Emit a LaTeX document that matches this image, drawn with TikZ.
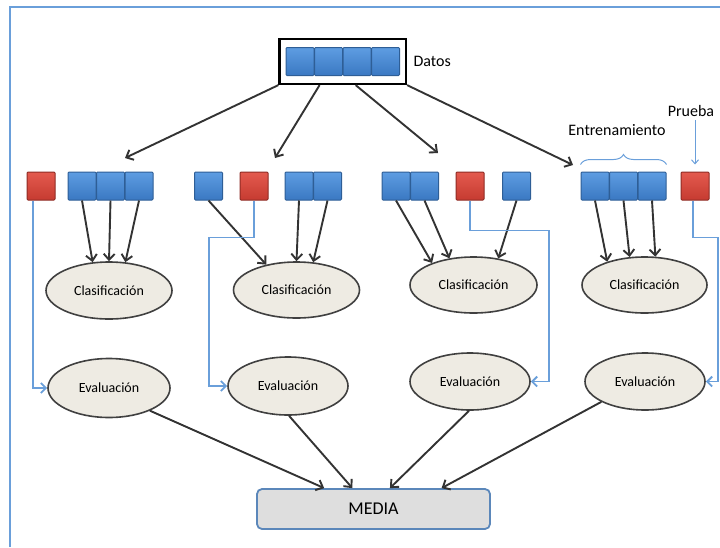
\documentclass[tikz,border=0pt]{standalone}
\usepackage{fontspec}
\setmainfont{Carlito}
\usepackage{xcolor}
\usepackage{tikz}
\usetikzlibrary{shapes.geometric, arrows.meta, positioning, fit, calc, decorations.pathreplacing}

\definecolor{bluetop}{HTML}{5E9DE2}
\definecolor{bluebot}{HTML}{3A78C2}
\definecolor{blueedge}{HTML}{2E5E96}
\definecolor{redtop}{HTML}{E35A4E}
\definecolor{redbot}{HTML}{C63B31}
\definecolor{rededge}{HTML}{8F2B24}
\definecolor{ovalfill}{HTML}{EEEBE3}
\definecolor{linkblue}{HTML}{6A9FDA}
\definecolor{mediafill}{HTML}{DEDEDE}
\definecolor{mediaedge}{HTML}{5B87BA}

\begin{document}
\begin{tikzpicture}[x=1pt, y=-1pt,
    bluebox/.style={draw=blueedge, line width=1pt, top color=bluetop, bottom color=bluebot, rounded corners=1pt, minimum width=28pt, minimum height=28pt, inner sep=0pt},
    redbox/.style={draw=rededge, line width=1pt, top color=redtop, bottom color=redbot, rounded corners=1pt, minimum width=28pt, minimum height=28pt, inner sep=0pt},
    oval/.style={ellipse, draw=black!75, line width=1.6pt, fill=ovalfill, inner sep=0pt, font=\fontsize{14}{16}\selectfont},
    link/.style={draw=black!80, line width=1.9pt, -{Straight Barb[length=6pt, width=11pt]}},
    testlink/.style={draw=linkblue, line width=1.9pt, -{Straight Barb[length=5pt, width=10pt]}},
    lbl/.style={font=\fontsize{16}{18}\selectfont}]
    \useasboundingbox (0,0) rectangle (720,547);

    % Frame
    \draw [linkblue, line width=1.6pt] (10,547) -- (10,7) -- (720,7);

    % Data set
    \foreach \i/\x in {1/300, 2/328.5, 3/357, 4/385.5}
        \node [bluebox] (d\i) at (\x,61.5) {};
    \node [draw, line width=2.2pt, fit=(d1)(d4), inner xsep=6pt, inner ysep=8pt] (datos) {};
    \node [lbl, right=3pt of datos] (datoslbl) {Datos};

    % Folds
    \node [redbox] (g1r) at (41,186) {};
    \foreach \i/\x in {1/82, 2/110.5, 3/139}
        \node [bluebox] (g1b\i) at (\x,186) {};

    \node [bluebox] (g2s) at (208.5,186) {};
    \node [redbox] (g2r) at (254,186) {};
    \foreach \i/\x in {1/299, 2/327.5}
        \node [bluebox] (g2b\i) at (\x,186) {};

    \foreach \i/\x in {1/396, 2/424.5}
        \node [bluebox] (g3b\i) at (\x,186) {};
    \node [redbox] (g3r) at (470,186) {};
    \node [bluebox] (g3s) at (516.5,186) {};

    \foreach \i/\x in {1/595, 2/623.5, 3/652}
        \node [bluebox] (g4b\i) at (\x,186) {};
    \node [redbox] (g4r) at (695,186) {};

    % Classifiers
    \node [oval, minimum width=126pt, minimum height=57pt] (cl1) at (109,290.5) {Clasificación};
    \node [oval, minimum width=126pt, minimum height=56pt] (cl2) at (296.5,290) {Clasificación};
    \node [oval, minimum width=127pt, minimum height=56pt] (cl3) at (473.5,285) {Clasificación};
    \node [oval, minimum width=125pt, minimum height=56pt] (cl4) at (644.5,285) {Clasificación};

    % Evaluations
    \node [oval, minimum width=122pt, minimum height=59pt] (ev1) at (109,388) {Evaluación};
    \node [oval, minimum width=120pt, minimum height=58pt] (ev2) at (288,386) {Evaluación};
    \node [oval, minimum width=120pt, minimum height=57pt] (ev3) at (470,381.5) {Evaluación};
    \node [oval, minimum width=120pt, minimum height=57pt] (ev4) at (645,381.5) {Evaluación};

    % Mean
    \node [draw=mediaedge, line width=1.8pt, fill=mediafill, rounded corners=5pt, minimum width=233pt, minimum height=40pt, font=\fontsize{18}{20}\selectfont] (media) at (373.5,509) {MEDIA};

    % Split
    \coordinate (p1) at (125,158);
    \coordinate (p2) at (275,158);
    \coordinate (p3) at (438,153);
    \coordinate (p4) at (573,165);
    \draw [link] (datos.south west) -- (p1);
    \draw [link] ($(datos.south west)!0.32!(datos.south east)$) -- (p2);
    \draw [link] ($(datos.south west)!0.6!(datos.south east)$) -- (p3);
    \draw [link] (datos.south east) -- (p4);

    % Training
    \draw [link] (g1b1.south) -- (cl1.120);
    \draw [link] (g1b2.south) -- (cl1.90);
    \draw [link] (g1b3.south) -- (cl1.60);
    \draw [link] (g2s.south) -- (cl2.140);
    \draw [link] (g2b1.south) -- (cl2.90);
    \draw [link] (g2b2.south) -- (cl2.59);
    \draw [link] (g3b1.south) -- (cl3.152);
    \draw [link] (g3b2.south) -- (cl3.132);
    \draw [link] (g3s.south) -- (cl3.47);
    \draw [link] (g4b1.south) -- (cl4.148);
    \draw [link] (g4b2.south) -- (cl4.118);
    \draw [link] (g4b3.south) -- (cl4.69);

    % Test
    \draw [testlink] ([xshift=-8pt]g1r.south) |- (ev1.west);
    \draw [testlink] (g2r.south) -- ++(0,37) -| ([xshift=-18pt]ev2.west) -- (ev2.west);
    \draw [testlink] (g3r.south) -- ++(0,30) -| ([xshift=18pt]ev3.east) -- (ev3.east);
    \draw [testlink] ([xshift=-2pt]g4r.south) -- ++(0,37) -| ([xshift=12pt]ev4.east) -- (ev4.east);

    % Labels
    \draw [linkblue, line width=1pt, decorate, decoration={brace, amplitude=10pt}]
        ([yshift=7pt]g4b1.north west) -- ([yshift=7pt]g4b3.north east);
    \node [lbl] (train) at (617,130) {Entrenamiento};
    \node [lbl] (prueba) at (691,111) {Prueba};
    \draw [linkblue, line width=1pt, -{Straight Barb[length=4pt, width=7pt]}]
        (prueba.south -| g4r) -- ([yshift=7pt]g4r.north);

    % Mean
    \draw [link] (ev1.-29) -- ($(media.north west)!0.29!(media.north east)$);
    \draw [link] (ev2.-88) -- ($(media.north west)!0.41!(media.north east)$);
    \draw [link] (ev3.-92) -- ($(media.north west)!0.57!(media.north east)$);
    \draw [link] (ev4.205) -- ($(media.north west)!0.79!(media.north east)$);
\end{tikzpicture}
\end{document}
